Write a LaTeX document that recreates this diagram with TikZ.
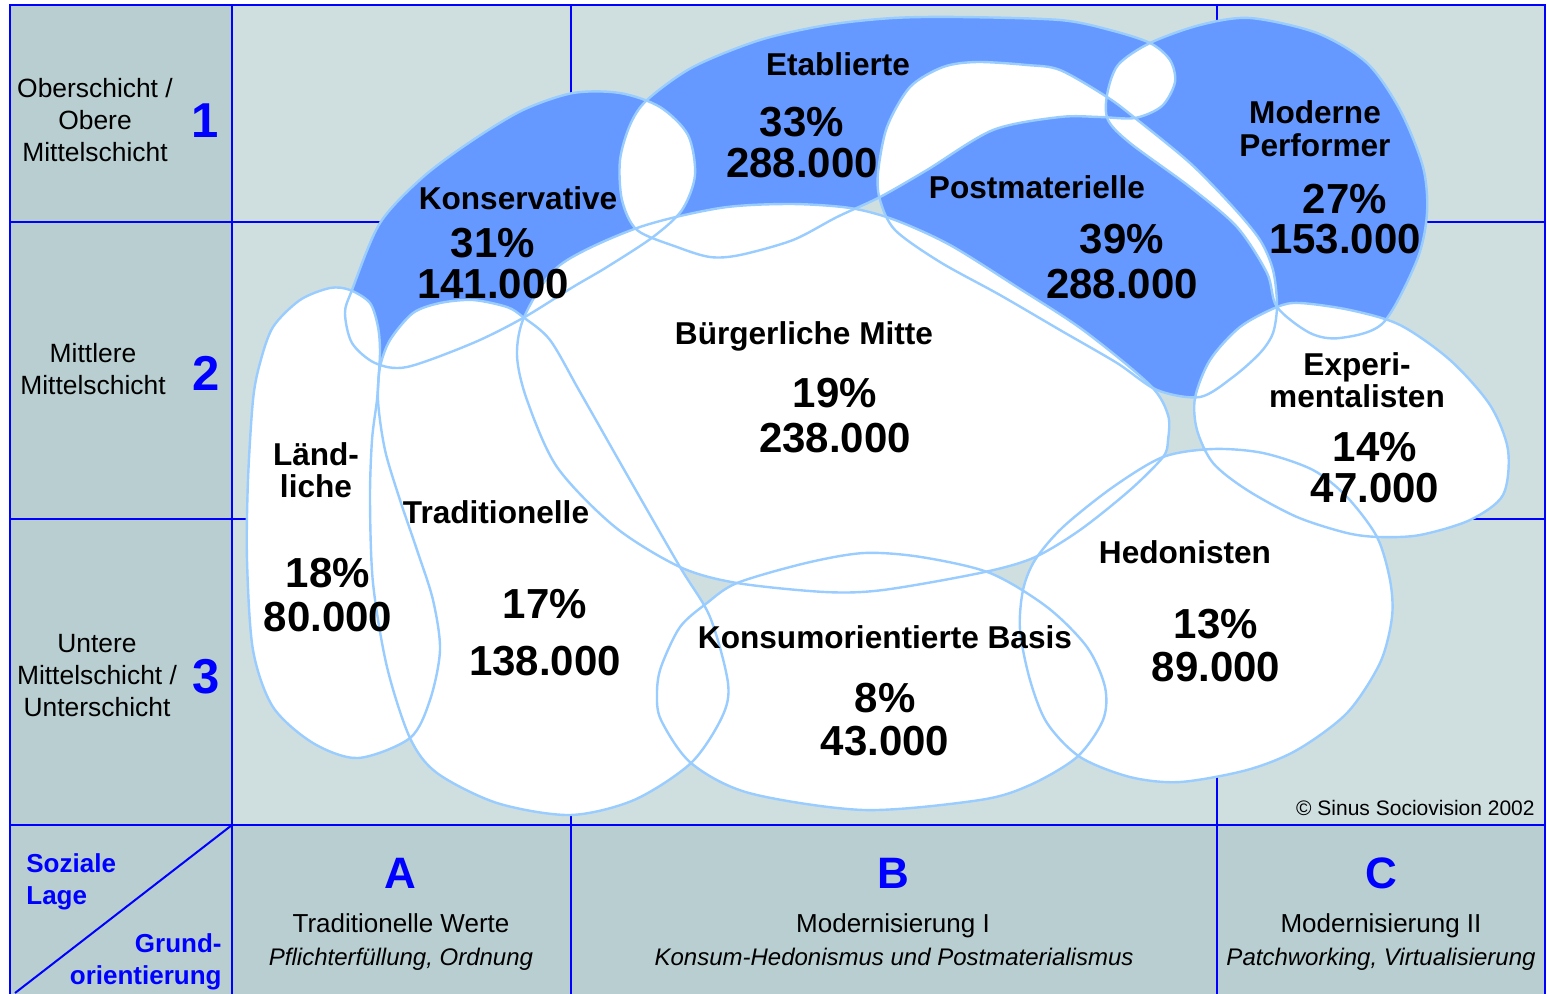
\documentclass[tikz,border=0pt]{standalone}
\usepackage{fontspec}
\setmainfont{Liberation Sans}
\usetikzlibrary{positioning}
\definecolor{gridblue}{HTML}{0000FF}
\definecolor{cellbg}{HTML}{CFDFE0}
\definecolor{headbg}{HTML}{B8CED1}
\definecolor{upperblue}{HTML}{6699FF}
\definecolor{blobline}{HTML}{99CCFF}
\tikzset{
    gridline/.style = {draw=gridblue, line width=1pt},
    lowerfill/.style = {fill=white},
    upperfill/.style = {fill=upperblue, even odd rule},
    outline/.style = {draw=blobline, line width=1.2pt},
    mname/.style = {inner sep=0pt, text height=11.3pt, text depth=0pt,
        font=\fontsize{15.8}{18}\selectfont\bfseries},
    mnum/.style = {inner sep=0pt, text height=15pt, text depth=0pt,
        font=\fontsize{21}{24}\selectfont\bfseries},
    layer/.style = {inner sep=0pt, align=center,
        font=\fontsize{13.2}{16}\selectfont},
    layernum/.style = {inner sep=0pt, text height=17.5pt, text depth=0pt, text=gridblue,
        font=\fontsize{24.5}{28}\selectfont\bfseries},
    axislabel/.style = {inner sep=0pt, text=gridblue,
        font=\fontsize{13}{16}\selectfont\bfseries},
    orient/.style = {inner sep=0pt, text height=15.8pt, text depth=0pt, text=gridblue,
        font=\fontsize{22}{26}\selectfont\bfseries},
    orienttitle/.style = {inner sep=0pt, text height=9.3pt, text depth=0pt,
        font=\fontsize{13}{16}\selectfont},
    orientsub/.style = {inner sep=0pt, text height=8.6pt, text depth=0pt,
        font=\fontsize{12}{15}\selectfont\itshape},
    credit/.style = {inner sep=0pt, text height=7.5pt, text depth=0pt,
        font=\fontsize{10.5}{13}\selectfont}
}
% milieu outlines (pixel grid of the chart)
\def\konservative{plot[smooth cycle] coordinates {(352,290) (380,223) (423,177) (473,140) (523,110) (573,93) (620,93) (660,107) (688,135) (695,175) (682,210) (653,237) (607,267) (573,287) (523,318) (473,343) (407,367) (375,363) (352,343) (345,313)}}
\def\etablierte{plot[smooth cycle] coordinates {(647,100) (693,67) (760,40) (827,25) (893,18) (960,17) (1060,20) (1110,30) (1150,43) (1170,60) (1175,82) (1162,106) (1135,118) (1100,117) (1060,117) (993,130) (927,170) (880,197) (837,217) (793,240) (740,255) (710,257) (677,247) (637,230) (622,200) (620,160) (630,125)}}
\def\postmat{plot[smooth cycle] coordinates {(880,200) (878,173) (887,127) (910,87) (943,67) (977,62) (1027,65) (1060,70) (1107,97) (1135,118) (1190,163) (1233,207) (1260,240) (1273,270) (1277,305) (1273,333) (1260,353) (1233,377) (1200,397) (1157,390) (1117,363) (1060,330) (1000,295) (940,262) (895,230)}}
\def\performer{plot[smooth cycle] coordinates {(1150,43) (1200,25) (1250,18) (1317,33) (1367,63) (1400,110) (1423,167) (1427,213) (1417,260) (1383,323) (1340,338) (1310,333) (1277,307) (1267,273) (1237,227) (1190,187) (1130,143) (1108,120) (1107,95) (1118,65)}}
\def\buergerlich{plot[smooth cycle] coordinates {(525,315) (560,265) (637,228) (720,208) (790,204) (850,208) (895,220) (950,245) (1017,287) (1083,330) (1150,385) (1168,415) (1168,440) (1163,457) (1130,490) (1080,530) (1033,558) (980,573) (883,590) (825,592) (737,583) (680,567) (615,527) (557,467) (527,400) (517,355)}}
\def\traditionell{plot[smooth cycle] coordinates {(372,440) (377,400) (380,367) (390,340) (413,313) (440,303) (473,300) (507,307) (523,317) (550,340) (580,392) (630,480) (680,567) (710,617) (728,683) (722,717) (691,763) (634,800) (570,815) (497,803) (437,773) (410,738) (387,667) (373,583) (370,500)}}
\def\laendlich{plot[smooth cycle] coordinates {(330,288) (350,290) (370,303) (378,327) (380,353) (378,400) (385,450) (400,500) (417,550) (433,600) (440,650) (430,700) (410,738) (358,758) (313,743) (273,707) (253,650) (247,560) (248,480) (253,400) (260,363) (273,327) (300,300)}}
\def\konsum{plot[smooth cycle] coordinates {(737,583) (806,563) (864,553) (921,557) (990,573) (1047,607) (1087,647) (1105,687) (1103,720) (1077,757) (1030,785) (980,800) (864,810) (749,793) (691,763) (661,720) (657,693) (661,667) (680,627) (707,603)}}
\def\hedonist{plot[smooth cycle] coordinates {(1163,457) (1213,449) (1263,453) (1313,470) (1347,497) (1377,537) (1390,580) (1392,617) (1380,663) (1347,713) (1297,750) (1247,770) (1180,782) (1130,777) (1080,757) (1047,723) (1030,680) (1020,630) (1023,590) (1035,560) (1063,527) (1113,487)}}
\def\experiment{plot[smooth cycle] coordinates {(1277,307) (1300,303) (1350,310) (1400,325) (1450,360) (1490,405) (1508,450) (1503,495) (1470,520) (1420,535) (1380,537) (1347,533) (1297,517) (1247,490) (1213,463) (1197,430) (1195,398) (1210,360) (1240,327)}}

\begin{document}
\begin{tikzpicture}[x=0.5pt, y=-0.5pt]
        \useasboundingbox (0,0) rectangle (1547,993);
        % cells
        \fill[cellbg] (232,5) rectangle (1545,825);
        \fill[headbg] (10,5) rectangle (232,1000);
        \fill[headbg] (232,825) rectangle (1545,1000);
        \draw[gridline] (10,5) rectangle (1545,1000);
        \draw[gridline] (232,5) -- (232,1000);
        \draw[gridline] (571,5) -- (571,1000);
        \draw[gridline] (1217,5) -- (1217,1000);
        \foreach \r in {222,519,825}{
            \draw[gridline] (10,\r) -- (1545,\r);
        }
        \draw[gridline] (232,825) -- (15,993);
        % milieus: upper ones white below, blue where only one covers
        \fill[lowerfill] \konservative;
        \fill[lowerfill] \etablierte;
        \fill[lowerfill] \postmat;
        \fill[lowerfill] \performer;
        \fill[upperfill] \konservative \etablierte \postmat \performer;
        \fill[lowerfill] \buergerlich;
        \fill[lowerfill] \traditionell;
        \fill[lowerfill] \laendlich;
        \fill[lowerfill] \konsum;
        \fill[lowerfill] \hedonist;
        \fill[lowerfill] \experiment;
        \draw[outline] \konservative;
        \draw[outline] \etablierte;
        \draw[outline] \postmat;
        \draw[outline] \performer;
        \draw[outline] \buergerlich;
        \draw[outline] \traditionell;
        \draw[outline] \laendlich;
        \draw[outline] \konsum;
        \draw[outline] \hedonist;
        \draw[outline] \experiment;
        % milieu names
        \node[mname] (etabname) at (838,64) {Etablierte};
        \node[mname] (konname) at (518,198) {Konservative};
        \node[mname] (postname) at (1037,187) {Postmaterielle};
        \node[mname] (mpname) at (1315,112) {Moderne};
        \node[mname, on grid, below=16.5pt of mpname] (mpname2) {Performer};
        \node[mname] (bmname) at (804,333) {Bürgerliche Mitte};
        \node[mname] (expname) at (1357,364) {Experi-};
        \node[mname, on grid, below=16pt of expname] (expname2) {mentalisten};
        \node[mname] (laendname) at (316,454) {Länd-};
        \node[mname, on grid, below=16pt of laendname] (laendname2) {liche};
        \node[mname] (tradname) at (496,512) {Traditionelle};
        \node[mname] (konsname) at (885,637) {Konsumorientierte Basis};
        \node[mname] (hedoname) at (1185,552) {Hedonisten};
        % shares and counts
        \foreach \m/\px/\py/\p/\c/\d in {etab/802/121/33/288.000/20.5, kon/493/242/31/141.000/20.5,
            post/1122/238/39/288.000/22.5, mp/1345/198/27/153.000/20, bm/835/392/19/238.000/22.5,
            exp/1375/446/14/47.000/20.5, laend/328/572/18/80.000/22, trad/545/603/17/138.000/28.5,
            kons/885/697/8/43.000/21.5, hedo/1216/623/13/89.000/21.5}{
            \node[mnum] (\m pct) at (\px,\py) {\p\%};
            \node[mnum, on grid, below=\d pt of \m pct] (\m cnt) {\c};
        }
        % social layers
        \node[layer] (lay1) at (95,120) {Oberschicht /\\Obere\\Mittelschicht};
        \node[layernum] (lay1num) at (205,120) {1};
        \node[layer] (lay2) at (93,369) {Mittlere\\Mittelschicht};
        \node[layernum] (lay2num) at (206,373) {2};
        \node[layer] (lay3) at (97,676) {Untere\\Mittelschicht /\\Unterschicht};
        \node[layernum] (lay3num) at (206,676) {3};
        \node[axislabel, anchor=west, align=left] (lage) at (26,882) {Soziale\\Lage};
        \node[axislabel, anchor=east, align=right] (grund) at (222,962) {Grund-\\orientierung};
        % basic orientations
        \node[orient] (orA) at (400,873) {A};
        \node[orienttitle] (orAt) at (401,923) {Traditionelle Werte};
        \node[orientsub] (orAs) at (401,957) {Pflichterfüllung, Ordnung};
        \node[orient] (orB) at (893,873) {B};
        \node[orienttitle] (orBt) at (893,923) {Modernisierung I};
        \node[orientsub] (orBs) at (894,957) {Konsum-Hedonismus und Postmaterialismus};
        \node[orient] (orC) at (1381,873) {C};
        \node[orienttitle] (orCt) at (1381,923) {Modernisierung II};
        \node[orientsub] (orCs) at (1381,957) {Patchworking, Virtualisierung};
        \node[credit, anchor=east] (copy) at (1535,808) {© Sinus Sociovision 2002};
\end{tikzpicture}
\end{document}
